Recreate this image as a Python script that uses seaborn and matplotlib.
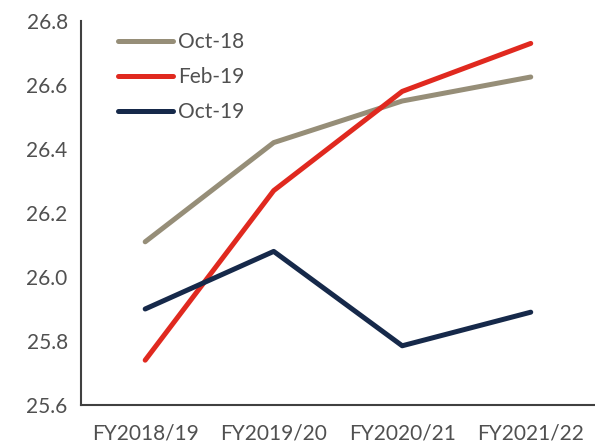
import matplotlib
matplotlib.use("Agg")
import matplotlib.pyplot as plt
import pandas as pd
import seaborn as sns

years = ["FY2018/19", "FY2019/20", "FY2020/21", "FY2021/22"]
oct18 = [26.11, 26.42, 26.55, 26.625]
feb19 = [25.74, 26.27, 26.58, 26.73]
oct19 = [25.90, 26.08, 25.785, 25.89]
series = ["Oct-18", "Feb-19", "Oct-19"]
colors = ["#968E78", "#E0291F", "#16294A"]

# long form table
rows = []
for name, vals in zip(series, [oct18, feb19, oct19]):
    for i, v in enumerate(vals):
        rows.append({"pos": i, "value": v, "series": name})
df = pd.DataFrame(rows)

sns.set_style("white")
plt.rcParams["font.family"] = ["Lato", "DejaVu Sans"]
txt = "#505050"
axcol = "#404040"

fig = plt.figure(figsize=(5.95, 4.47), dpi=100)
ax = fig.add_axes([0.136, 0.094, 0.864, 0.859])
sns.lineplot(data=df, x="pos", y="value", hue="series", hue_order=series,
             palette=colors, linewidth=3.6, ax=ax, solid_capstyle="round")

ax.set_xlim(-0.5, 3.5)
ax.set_ylim(25.6, 26.8)
ax.set_yticks([25.6, 25.8, 26.0, 26.2, 26.4, 26.6, 26.8])
ax.set_yticklabels([f"{v:.1f}" for v in ax.get_yticks()])
ax.set_xticks([-0.5, 0.5, 1.5, 2.5])
ax.set_xticklabels([])
ax.set_xticks(range(len(years)), minor=True)
ax.set_xticklabels(years, minor=True)
ax.tick_params(axis="x", which="minor", length=0, pad=13, labelsize=15, labelcolor=txt)
ax.tick_params(axis="x", which="major", length=6, width=1.5, color=axcol, direction="out")
ax.tick_params(axis="y", length=6, width=1.5, color=axcol, labelsize=15, labelcolor=txt, direction="out")
ax.set_xlabel("")
ax.set_ylabel("")
for s in ["top", "right"]:
    ax.spines[s].set_visible(False)
for s in ["left", "bottom"]:
    ax.spines[s].set_color(axcol)
    ax.spines[s].set_linewidth(1.5)

leg = ax.legend(loc="upper left", bbox_to_anchor=(0.035, 1.02), frameon=False,
                fontsize=15, handlelength=2.65, handletextpad=0.25, labelspacing=0.72)
for t in leg.get_texts():
    t.set_color(txt)
for h in leg.get_lines():
    h.set_linewidth(3.6)

fig.savefig("out.png", dpi=100)
